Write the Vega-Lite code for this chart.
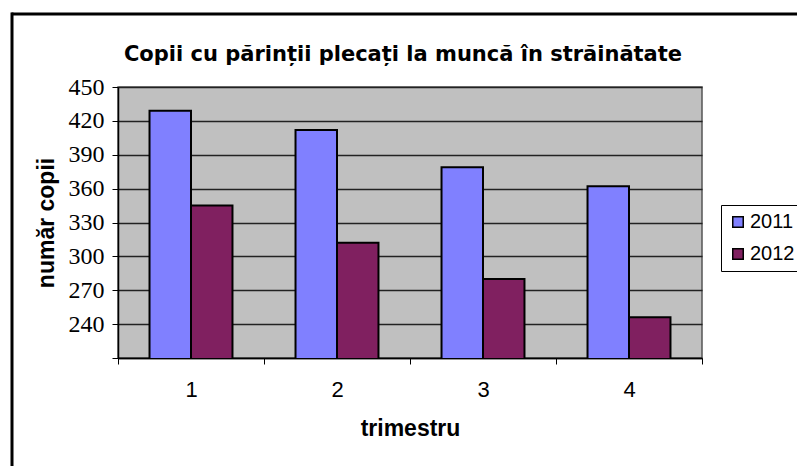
{
  "$schema": "https://vega.github.io/schema/vega-lite/v6.json",
  "width": 584,
  "height": 271,
  "autosize": {"type": "none"},
  "padding": {"left": 118, "top": 87, "right": 95, "bottom": 108},
  "background": "white",
  "title": {
    "text": "Copii cu părinții plecați la muncă în străinătate",
    "font": "DejaVu Sans",
    "fontSize": 21,
    "fontWeight": "bold",
    "color": "black",
    "anchor": "middle",
    "dx": -7,
    "dy": 57,
    "offset": 6
  },
  "data": {
    "values": [
      {"trimestru": "1", "an": "2011", "copii": 429},
      {"trimestru": "1", "an": "2012", "copii": 345},
      {"trimestru": "2", "an": "2011", "copii": 412},
      {"trimestru": "2", "an": "2012", "copii": 312},
      {"trimestru": "3", "an": "2011", "copii": 379},
      {"trimestru": "3", "an": "2012", "copii": 280},
      {"trimestru": "4", "an": "2011", "copii": 362},
      {"trimestru": "4", "an": "2012", "copii": 246}
    ]
  },
  "layer": [
    {
      "mark": {"type": "bar", "stroke": "black", "strokeWidth": 2, "clip": true},
      "encoding": {
        "x": {
          "field": "trimestru",
          "type": "nominal",
          "scale": {"paddingInner": 0, "paddingOuter": 0},
          "axis": {
            "title": "trimestru",
            "titleFont": "Liberation Sans",
            "titleFontSize": 23,
            "titleFontWeight": "bold",
            "titleColor": "black",
            "titlePadding": 17,
            "labelAngle": 0,
            "labelFont": "Liberation Sans",
            "labelFontSize": 22,
            "labelColor": "black",
            "labelPadding": 15,
            "tickBand": "extent",
            "tickSize": 6,
            "tickColor": "black",
            "domainColor": "black",
            "domainWidth": 1.5,
            "grid": false
          }
        },
        "xOffset": {
          "field": "an",
          "type": "nominal",
          "scale": {"paddingInner": 0, "paddingOuter": 0.76}
        },
        "y": {
          "field": "copii",
          "type": "quantitative",
          "scale": {"domain": [210, 450], "nice": false, "zero": false},
          "axis": {
            "title": "număr copii",
            "titleFont": "Liberation Sans",
            "titleFontSize": 23,
            "titleFontWeight": "bold",
            "titleColor": "black",
            "titlePadding": 10,
            "values": [210, 240, 270, 300, 330, 360, 390, 420, 450],
            "labelExpr": "datum.value == 210 ? '' : datum.label",
            "labelFont": "Liberation Serif",
            "labelFontSize": 24,
            "labelColor": "black",
            "labelPadding": 8,
            "tickSize": 6,
            "tickColor": "black",
            "domainColor": "black",
            "domainWidth": 1.5,
            "gridColor": "#222222",
            "gridWidth": 1.3,
            "gridOpacity": 1
          }
        },
        "color": {
          "field": "an",
          "type": "nominal",
          "scale": {"domain": ["2011", "2012"], "range": ["#8080FF", "#802060"]},
          "legend": {
            "title": null,
            "orient": "none",
            "legendX": 603,
            "legendY": 118,
            "direction": "vertical",
            "strokeColor": "black",
            "fillColor": "white",
            "padding": 7,
            "symbolType": "square",
            "symbolSize": 110,
            "symbolStrokeColor": "black",
            "symbolStrokeWidth": 1.5,
            "symbolOpacity": 1,
            "labelFont": "Liberation Sans",
            "labelFontSize": 20,
            "labelColor": "black",
            "labelOffset": 2,
            "rowPadding": 12
          }
        }
      }
    },
    {
      "mark": {"type": "point", "opacity": 0},
      "encoding": {
        "x": {
          "field": "copii",
          "type": "quantitative",
          "scale": {"range": [-107, 720]},
          "axis": {
            "orient": "top",
            "offset": 73.5,
            "title": null,
            "labels": false,
            "ticks": false,
            "grid": false,
            "domainColor": "black",
            "domainWidth": 3
          }
        },
        "y": {
          "field": "copii",
          "type": "quantitative",
          "scale": {"range": [390, -75]},
          "axis": {
            "orient": "left",
            "offset": 106.5,
            "title": null,
            "labels": false,
            "ticks": false,
            "grid": false,
            "domainColor": "black",
            "domainWidth": 3
          }
        }
      }
    }
  ],
  "resolve": {
    "scale": {"x": "independent", "y": "independent"},
    "axis": {"x": "independent", "y": "independent"}
  },
  "config": {
    "view": {"fill": "#C0C0C0", "stroke": "#555555", "strokeWidth": 1.5}
  }
}
